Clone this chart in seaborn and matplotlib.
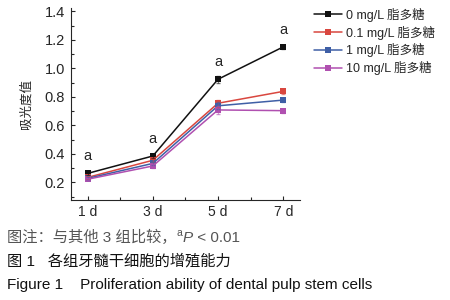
import matplotlib
matplotlib.use("Agg")
import matplotlib.pyplot as plt
import pandas as pd
import numpy as np
import seaborn as sns
from matplotlib.ticker import MultipleLocator

# data
days = ["1 d", "3 d", "5 d", "7 d"]
groups = ["0 mg/L 脂多糖", "0.1 mg/L 脂多糖", "1 mg/L 脂多糖", "10 mg/L 脂多糖"]
od_0 = [0.263, 0.385, 0.923, 1.150]
od_01 = [0.235, 0.355, 0.755, 0.838]
od_1 = [0.228, 0.333, 0.737, 0.777]
od_10 = [0.222, 0.315, 0.708, 0.703]
err = [0.008, 0.012, 0.025, 0.015]
colors = ["#111111", "#d9473f", "#3f5fa6", "#b050b0"]
sig_days = ["1 d", "3 d", "5 d", "7 d"]

rows = []
for g, vals in zip(groups, [od_0, od_01, od_1, od_10]):
    for i, v in enumerate(vals):
        rows.append({"day": i, "od": v, "group": g})
df = pd.DataFrame(rows)

sns.set_style("ticks")
plt.rcParams['font.family'] = ['Liberation Sans', 'Noto Sans CJK SC', 'DejaVu Sans']
plt.rcParams['axes.unicode_minus'] = False

fig = plt.figure(figsize=(4.5, 3.0), dpi=100)
ax = fig.add_axes([0.157, 0.335, 0.51, 0.637])

sns.lineplot(data=df, x="day", y="od", hue="group", palette=colors,
             marker="s", markersize=4, markeredgewidth=0, linewidth=1.1,
             ax=ax, legend=True)
for vals, c in zip([od_0, od_01, od_1, od_10], colors):
    ax.errorbar(range(4), vals, yerr=err, fmt="none", ecolor=c,
                elinewidth=0.6, capsize=1.5, alpha=0.6)

# significance marks above the 0 mg/L group
for d in sig_days:
    i = days.index(d)
    ax.text(i, od_0[i] + 0.07, "a", ha="center", va="bottom", fontsize=10.5)

ax.set_xlim(-0.26, 3.26)
ax.set_ylim(0.08, 1.42)
ax.set_xticks(range(4))
ax.set_xticklabels(days, fontsize=10)
ax.xaxis.set_minor_locator(MultipleLocator(0.5))
ax.yaxis.set_minor_locator(MultipleLocator(0.1))
ax.set_yticks([0.2, 0.4, 0.6, 0.8, 1.0, 1.2, 1.4])
ax.set_yticklabels(["0.2", "0.4", "0.6", "0.8", "1.0", "1.2", "1.4"], fontsize=10.5)
ax.tick_params(which="both", direction="in", length=3, width=0.8, pad=4)
ax.tick_params(which="minor", length=2)
ax.set_xlabel("")
ax.set_ylabel("吸光度值", fontsize=9, labelpad=9)
sns.despine(ax=ax)
for s in ["left", "bottom"]:
    ax.spines[s].set_linewidth(0.8)

ax.legend(loc="upper left", bbox_to_anchor=(1.04, 1.03), frameon=False,
          fontsize=9, handlelength=2.2, handletextpad=0.3, labelspacing=0.3,
          borderaxespad=0)

# caption, first line built piece by piece (superscript a, italic P)
fig.canvas.draw()
r = fig.canvas.get_renderer()
x = 0.016
y = 0.195
pieces = [("图注：与其他 3 组比较，", {}, 0),
          ("a", {"fontsize": 7.5}, 0.018),
          ("P", {"style": "italic"}, 0),
          (" < 0.01", {}, 0)]
for s, kw, dy in pieces:
    opts = {"fontsize": 11, "color": "#555555"}
    opts.update(kw)
    t = fig.text(x, y + dy, s, **opts)
    bb = t.get_window_extent(renderer=r)
    x += bb.width / fig.bbox.width

fig.text(0.016, 0.115, "图 1   各组牙髓干细胞的增殖能力", fontsize=11, color="#111111")
fig.text(0.016, 0.035, "Figure 1    Proliferation ability of dental pulp stem cells",
         fontsize=11, color="#111111")

fig.savefig("out.png", dpi=100)
